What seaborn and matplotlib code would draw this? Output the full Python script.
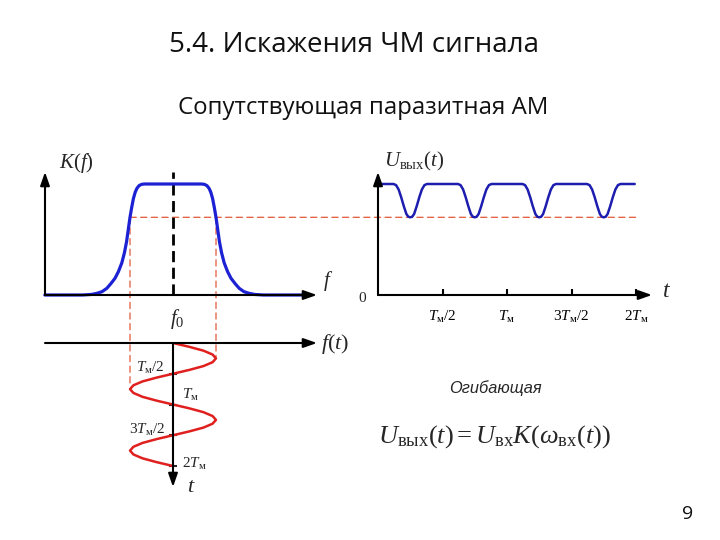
import matplotlib
matplotlib.use("Agg")
import matplotlib.pyplot as plt
import seaborn as sns
from matplotlib.patches import ConnectionPatch

# ---------------- data ----------------
# K(f): frequency in units of the deviation (f0 = 0), gain normalised to 1
k_freq = [-2.98, -2.1, -1.9, -1.77, -1.65, -1.54, -1.45, -1.35, -1.27, -1.19, -1.13,
          -1.08, -1.04, -1.00, -0.96, -0.92, -0.88, -0.84, -0.79, -0.73, -0.66,
          0.66, 0.73, 0.79, 0.84, 0.88, 0.92, 0.96, 1.00, 1.04, 1.08, 1.13, 1.19,
          1.27, 1.35, 1.45, 1.54, 1.65, 1.77, 1.9, 2.1, 3.14]
k_gain = [0.0, 0.0, 0.005, 0.015, 0.03, 0.06, 0.10, 0.15, 0.21, 0.29, 0.38,
          0.48, 0.59, 0.70, 0.79, 0.87, 0.925, 0.96, 0.985, 0.997, 1.0,
          1.0, 0.997, 0.985, 0.96, 0.925, 0.87, 0.79, 0.70, 0.59, 0.48, 0.38, 0.29,
          0.21, 0.15, 0.10, 0.06, 0.03, 0.015, 0.005, 0.0, 0.0]
k_threshold = 0.70

# f(t): instantaneous frequency, t in units of T_m
ft_time = [0, 0.0625, 0.125, 0.1875, 0.25, 0.3125, 0.375, 0.4375, 0.5,
           0.5625, 0.625, 0.6875, 0.75, 0.8125, 0.875, 0.9375, 1.0,
           1.0625, 1.125, 1.1875, 1.25, 1.3125, 1.375, 1.4375, 1.5,
           1.5625, 1.625, 1.6875, 1.75, 1.8125, 1.875, 1.9375, 2.0]
ft_freq = [0, 0.38, 0.71, 0.92, 1.0, 0.92, 0.71, 0.38, 0,
           -0.38, -0.71, -0.92, -1.0, -0.92, -0.71, -0.38, 0,
           0.38, 0.71, 0.92, 1.0, 0.92, 0.71, 0.38, 0,
           -0.38, -0.71, -0.92, -1.0, -0.92, -0.71, -0.38, 0]

# U_out(t): envelope, dips at the frequency extremes
u_start, u_end = 0.015, 1.99
u_dip_centres = [0.25, 0.75, 1.25, 1.75]
u_dip_offsets = [-0.13, -0.11, -0.09, -0.07, -0.05, -0.03, -0.015, 0.0,
                 0.015, 0.03, 0.05, 0.07, 0.09, 0.11, 0.13]
u_dip_values = [1.0, 0.99, 0.95, 0.88, 0.80, 0.73, 0.705, 0.70,
                0.705, 0.73, 0.80, 0.88, 0.95, 0.99, 1.0]

t_ticks = [0.5, 1.0, 1.5, 2.0]
t_tick_labels = [r"$T_{\mathrm{м}}/2$", r"$T_{\mathrm{м}}$",
                 r"$3T_{\mathrm{м}}/2$", r"$2T_{\mathrm{м}}$"]

u_time = [u_start]
u_val = [1.0]
for c in u_dip_centres:
    for off, v in zip(u_dip_offsets, u_dip_values):
        u_time.append(c + off)
        u_val.append(v)
u_time.append(u_end)
u_val.append(1.0)

# ---------------- style ----------------
sns.set_style("white")
plt.rcParams['font.family'] = ['Open Sans', 'DejaVu Sans']
plt.rcParams['mathtext.fontset'] = 'custom'
plt.rcParams['mathtext.rm'] = 'Liberation Serif'
plt.rcParams['mathtext.it'] = 'Liberation Serif:italic'
plt.rcParams['mathtext.bf'] = 'Liberation Serif:bold'

W, H = 720, 540
fig = plt.figure(figsize=(7.2, 5.4), dpi=100)
fig.patch.set_facecolor('white')


def rect(l, r, t, b):
    return [l / W, 1 - b / H, (r - l) / W, (b - t) / H]


def px(x, y):
    return x / W, 1 - y / H


def arrow(ax, start, end, coords):
    ax.annotate("", xy=end, xytext=start, xycoords=coords, textcoords=coords,
                arrowprops=dict(arrowstyle='-|>,head_length=0.8,head_width=0.28',
                                color='black', lw=1.5, shrinkA=0, shrinkB=0),
                annotation_clip=False)


def clean(ax):
    for s in ax.spines.values():
        s.set_visible(False)
    ax.patch.set_visible(False)
    ax.set_xlabel("")
    ax.set_ylabel("")


BLUE = "#1c22d4"
BLUE2 = "#1d1db0"
RED = "#e0201e"
RED_DASH = "#e2583a"

# ---------------- panel 1 : K(f) ----------------
ax1 = fig.add_axes(rect(45, 317, 172, 295))
sns.lineplot(x=k_freq, y=k_gain, sort=False, estimator=None, ax=ax1,
             color=BLUE, lw=2.3)
ax1.lines[-1].set_clip_on(False)
ax1.set_xlim(-128 / 43, 144 / 43)
ax1.set_ylim(0, 123 / 111)
ax1.axvline(0, color='black', lw=2, ls=(0, (4, 2)), zorder=1)
clean(ax1)
ax1.set_xticks([])
ax1.set_yticks([])
arrow(ax1, (0, 0), (1, 0), 'axes fraction')
arrow(ax1, (0, 0), (0, 1), 'axes fraction')

# ---------------- panel 2 : U_out(t) ----------------
ax2 = fig.add_axes(rect(378, 652, 172, 295))
sns.lineplot(x=u_time, y=u_val, sort=False, estimator=None, ax=ax2,
             color=BLUE2, lw=1.8)
ax2.set_xlim(0, 274 / 129)
ax2.set_ylim(0, 123 / 111)
clean(ax2)
ax2.set_yticks([])
ax2.set_xticks(t_ticks)
ax2.set_xticklabels(t_tick_labels, fontsize=11)
ax2.tick_params(axis='x', direction='in', length=4, width=1.5, pad=10,
                bottom=True, colors='black')
arrow(ax2, (0, 0), (1, 0), 'axes fraction')
arrow(ax2, (0, 0), (0, 1), 'axes fraction')

# ---------------- panel 3 : f(t) ----------------
ax3 = fig.add_axes(rect(45, 317, 343, 487))
sns.lineplot(x=ft_freq, y=ft_time, sort=False, estimator=None, ax=ax3,
             color=RED, lw=1.8)
ax3.set_xlim(-128 / 43, 144 / 43)
ax3.set_ylim(144 / 61.5, 0)
clean(ax3)
ax3.spines['left'].set_position(('data', 0))
ax3.set_xticks([])
ax3.set_yticks(t_ticks)
ax3.tick_params(axis='y', direction='inout', length=6, width=1.5,
                labelleft=False, left=True)
arrow(ax3, (0, 1), (1, 1), 'axes fraction')
arrow(ax3, (0, 0), (0, 144 / 61.5), 'data')
ax3.text(-0.19, 0.40, t_tick_labels[0], ha='right', va='center', fontsize=11)
ax3.text(0.21, 0.85, t_tick_labels[1], ha='left', va='center', fontsize=11)
ax3.text(-0.19, 1.42, t_tick_labels[2], ha='right', va='center', fontsize=11)
ax3.text(0.21, 1.97, t_tick_labels[3], ha='left', va='center', fontsize=11)
ax3.text(0.42, 2.33, r"$t$", ha='center', va='center', fontsize=16)

# ---------------- dashed guide lines ----------------
fig.add_artist(ConnectionPatch(xyA=(-1, k_threshold), coordsA=ax1.transData,
                               xyB=(2.03, k_threshold), coordsB=ax2.transData,
                               color=RED_DASH, lw=0.9, ls=(0, (5, 3.5)), zorder=-1))
fig.add_artist(ConnectionPatch(xyA=(-1, k_threshold), coordsA=ax1.transData,
                               xyB=(-1, 0.68), coordsB=ax3.transData,
                               color=RED_DASH, lw=0.9, ls=(0, (5, 3.5)), zorder=-1))
fig.add_artist(ConnectionPatch(xyA=(1, k_threshold), coordsA=ax1.transData,
                               xyB=(1, 0.23), coordsB=ax3.transData,
                               color=RED_DASH, lw=0.9, ls=(0, (5, 3.5)), zorder=-1))

# ---------------- labels ----------------
fig.text(*px(76, 163), r"$K(f)$", ha='center', va='center', fontsize=15)
fig.text(*px(328, 281), r"$f$", ha='center', va='center', fontsize=15)
fig.text(*px(177, 319), r"$f_0$", ha='center', va='center', fontsize=15)
fig.text(*px(414, 161), r"$U_{\mathrm{вых}}(t)$", ha='center', va='center', fontsize=15)
fig.text(*px(667, 291), r"$t$", ha='center', va='center', fontsize=17)
fig.text(*px(363, 299), r"$0$", ha='center', va='center', fontsize=11)
fig.text(*px(335, 344), r"$f(t)$", ha='center', va='center', fontsize=16)

fig.text(*px(354, 45), "5.4. Искажения ЧМ сигнала", ha='center', va='center',
         fontsize=20, color='#111111')
fig.text(*px(363, 108), "Сопутствующая паразитная АМ", ha='center', va='center',
         fontsize=17.3, color='#111111')
fig.text(*px(495, 388), "Огибающая", ha='center', va='center', fontsize=11.8,
         style='italic', family=['Liberation Sans', 'DejaVu Sans'])
fig.text(*px(495, 437),
         r"$U_{\mathrm{вых}}(t) = U_{\mathrm{вх}}K\left(\omega_{\mathrm{вх}}(t)\right)$",
         ha='center', va='center', fontsize=19)
fig.text(*px(688, 514), "9", ha='center', va='center', fontsize=14, color='#111111')

fig.savefig("out.png", dpi=100, facecolor='white')
